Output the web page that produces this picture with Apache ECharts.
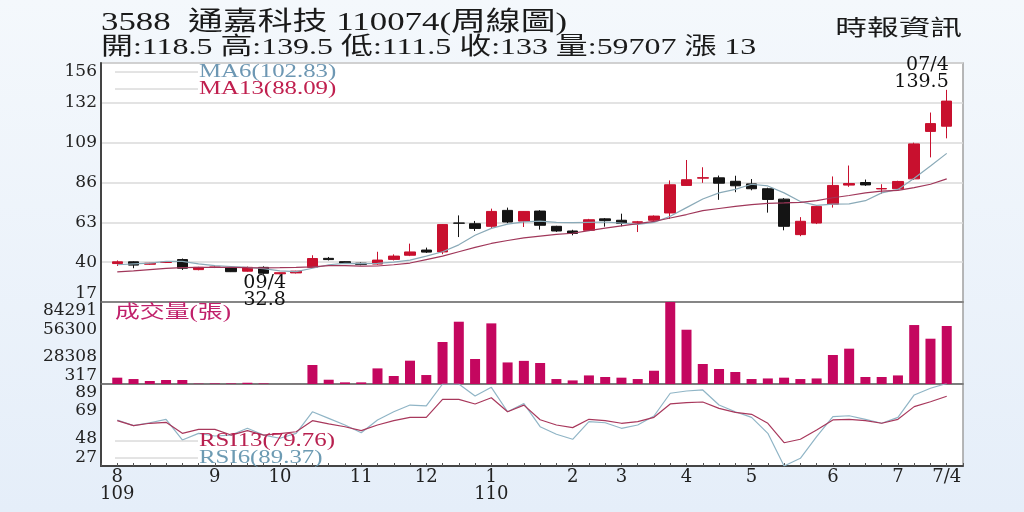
<!DOCTYPE html>
<html><head><meta charset="utf-8">
<script src="https://cdn.jsdelivr.net/npm/echarts@6/dist/echarts.min.js"></script>
<style>html,body{margin:0;padding:0;width:1024px;height:512px;overflow:hidden;}#c{width:1024px;height:512px;}</style>
</head><body><div id="c"></div>
<script>
// ---- data (weekly, 52 weeks) ----
const xLabels = ['8\n109','','','','','','9','','','','10','','','','','11','','','','12','','','','1\n110','','','','','2','','','3','','','','4','','','','5','','','','','6','','','','7','','','7/4'];
const open  = [39.2,40.2,38.8,39.8,41.5,35.7,37.0,36.7,34.8,37.0,33.3,33.8,37.0,42.2,40.3,39.4,38.9,41.6,44.0,47.0,45.9,62.6,62.2,60.7,69.9,63.7,69.5,60.7,58.0,58.4,65.0,64.2,63.0,64.2,68.4,84.3,88.5,88.7,86.7,85.2,82.4,76.4,55.9,62.6,73.4,84.5,86.0,82.3,82.4,88.1,115.5,118.5];
const close = [40.2,38.3,39.4,40.0,36.5,37.0,37.2,34.5,37.0,33.6,33.9,34.8,42.1,41.5,39.5,38.7,41.2,43.5,45.9,45.8,61.7,62.5,59.5,69.3,63.2,69.3,61.3,58.0,56.6,64.5,64.0,62.4,63.3,66.6,84.7,87.6,88.8,85.6,84.1,82.4,76.2,60.7,63.6,72.2,84.3,85.4,84.6,82.5,86.6,108.3,120.0,133.0];
const low   = [37.8,36.5,38.5,39.5,35.5,35.3,36.6,34.3,34.5,32.8,33.0,33.5,36.8,41.0,39.2,38.2,38.5,41.0,43.5,45.3,44.6,54.5,58.0,59.4,62.5,60.3,58.8,57.5,55.5,58.0,60.5,60.7,57.4,63.8,65.0,84.0,85.8,76.0,80.4,81.5,68.6,58.4,55.0,62.0,71.5,83.5,84.0,79.5,81.4,87.5,100.5,111.5];
const high  = [41.0,40.5,39.6,40.4,42.1,37.3,37.6,36.9,37.5,37.6,34.0,35.0,44.0,43.0,40.5,39.8,46.0,44.5,50.7,48.4,62.0,67.0,63.8,70.9,71.5,69.5,70.0,61.0,58.7,65.0,65.5,68.0,63.8,67.0,87.2,99.0,94.8,90.0,89.9,88.0,83.0,77.0,66.0,73.0,89.5,95.8,87.7,85.0,87.0,109.0,126.4,139.5];
const ma6   = [38.5,39.0,39.5,40.5,40.5,39.0,38.0,37.5,37.0,36.3,35.0,34.5,36.5,38.5,39.3,39.2,39.3,40.0,41.2,43.5,46.0,50.0,55.5,59.5,62.0,63.3,63.7,63.0,62.8,63.0,63.2,62.5,61.8,63.0,66.5,71.5,76.5,80.0,82.0,85.0,84.0,80.0,75.0,72.8,73.5,73.7,75.5,80.0,82.0,88.5,95.5,102.83];
const ma13  = [34.4,35.0,35.7,36.4,36.8,37.0,37.0,37.0,36.8,36.7,36.8,37.0,37.3,38.0,38.0,37.7,37.8,38.5,39.5,41.5,43.5,46.0,48.5,50.8,52.5,54.0,55.0,56.0,56.7,58.2,59.7,61.0,62.2,63.5,65.5,67.5,69.8,71.0,72.2,73.2,74.0,74.2,74.5,75.5,77.2,78.5,80.0,81.0,81.5,83.0,85.0,88.09];
const volume = [6800,5400,3400,4400,4400,700,900,900,1600,900,317,350,19800,4700,2000,2000,16300,8500,24200,9500,43300,64100,25900,62400,22400,24000,21800,5400,4000,9100,7500,6800,5400,13900,84291,55900,20800,15700,12600,5400,6000,6800,5400,6000,30000,36500,7500,7500,9100,60700,46700,59707];
const rsi13 = [61.3,57.5,59.3,60.0,51.7,54.7,54.7,50.4,53.7,50.4,51.5,52.9,61.3,58.8,56.7,53.7,58.0,61.3,63.8,63.8,77.4,77.4,73.9,78.6,68.0,73.0,62.0,58.0,56.0,62.3,61.3,59.3,60.5,63.8,73.9,74.9,75.4,70.6,67.6,66.1,59.3,44.6,47.2,54.2,61.8,62.3,61.3,59.3,62.3,71.9,75.6,79.76];
const rsi6  = [61.8,57.5,59.7,62.3,46.7,51.7,49.7,50.4,55.5,50.4,48.0,51.7,68.0,63.0,58.0,52.2,61.8,68.0,73.1,72.4,89.0,89.0,79.9,86.5,68.0,74.2,56.7,51.0,47.2,60.5,59.7,55.5,58.0,64.8,82.0,83.7,84.5,73.1,68.0,63.8,51.7,27.0,32.8,49.2,64.3,65.0,62.3,59.3,63.8,80.7,85.8,89.37];
const priceTicks = [17,40,63,86,109,132,155];
const priceTickText = ['17','40','63','86','109','132','156'];
const volTicks = [317,28308,56300,84291];
const rsiTicks = [27,48,69,89];
const hiIdx = 51, hiDate = '07/4';
const loIdx = 9, loDate = '09/4';
const title1 = '3588  通嘉科技 110074(周線圖)';
const title2 = '開:118.5 高:139.5 低:111.5 收:133 量:59707 漲 13';
const sourceText = '時報資訊';
const volTitle = '成交量(張)';

// ---- chart ----
const chart = echarts.init(document.getElementById('c'));
const candleData = open.map((o, i) => [o, close[i], low[i], high[i]]);
const axisFont = "'DejaVu Serif', serif";
const textFont = "'Liberation Serif', 'Noto Sans CJK TC', serif";
const edgeFmt = (ticks, texts) => (v) => {
  let i = ticks.findIndex(t => Math.abs(t - v) < 1e-6);
  if (i < 0) return '';
  const t = texts ? texts[i] : String(ticks[i]);
  if (i === 0) return t + '\n';
  if (i === ticks.length - 1) return '\n' + t;
  return t;
};
const grids = [
  {left: 101, right: 61, top: 63, height: 239},
  {left: 101, right: 61, top: 302, height: 82},
  {left: 101, right: 61, top: 384, height: 82}
].map(g => Object.assign(g, {show: true, backgroundColor: '#ffffff', borderColor: '#a0a0a0', borderWidth: 1.5}));

const xAxes = [0, 1, 2].map(g => ({
  type: 'category', gridIndex: g, data: xLabels, boundaryGap: false, min: -1, max: 52,
  axisLine: {show: true, lineStyle: {color: g === 2 ? '#444' : '#6e6e6e', width: g === 2 ? 2 : 1.5}},
  axisTick: {show: g === 2, inside: true, length: 3, interval: 0, lineStyle: {color: '#555'}},
  axisLabel: {show: g === 2, interval: 0, margin: 3, fontFamily: axisFont, fontSize: 18, color: '#222', lineHeight: 17,
    formatter: v => (v === undefined || v === null || v === 'undefined') ? '' : v},
  splitLine: {show: false}
}));

const yBase = {
  type: 'value',
  axisLine: {show: true, lineStyle: {color: '#444', width: 2}},
  axisTick: {show: false},
};
const yAxes = [
  Object.assign({}, yBase, {gridIndex: 0, min: 17, max: 155, interval: 23,
    splitLine: {show: true, lineStyle: {color: '#dadada', width: 1.5}},
    axisLabel: {margin: 4, fontFamily: axisFont, fontSize: 17, color: '#222', lineHeight: 17, formatter: edgeFmt(priceTicks, priceTickText)}}),
  Object.assign({}, yBase, {gridIndex: 1, min: volTicks[0], max: volTicks[volTicks.length - 1],
    splitLine: {show: false},
    axisLabel: {margin: 4, customValues: volTicks, fontFamily: axisFont, fontSize: 17, color: '#222', lineHeight: 17, formatter: edgeFmt(volTicks)}}),
  Object.assign({}, yBase, {gridIndex: 2, min: rsiTicks[0], max: rsiTicks[rsiTicks.length - 1],
    splitLine: {show: false},
    axisLabel: {margin: 4, customValues: rsiTicks, fontFamily: axisFont, fontSize: 17, color: '#222', lineHeight: 17, formatter: edgeFmt(rsiTicks)}})
];

const SX = 1.38;
function txt(x, y, text, size, color, align, sx) {
  return {type: 'text', x: x, y: y, scaleX: sx || SX, z: 100,
    style: {text: text, fill: color, font: size + 'px ' + textFont, textAlign: align || 'left', align: align || 'left',
      textVerticalAlign: 'middle', verticalAlign: 'middle'}};
}
function seg(y) {
  return {type: 'line', z: 100, shape: {x1: 115, y1: y, x2: 198, y2: y}, style: {stroke: '#c8c8c8', lineWidth: 1}};
}
const last = close.length - 1;
const graphics = [
  txt(101, 23, title1, 26, '#1a1a1a', 'left', 1.34),
  txt(101, 48, title2, 24, '#1a1a1a', 'left', 1.33),
  txt(962, 29, sourceText, 22, '#1a1a1a', 'right', 1.44),
  seg(72), seg(89), seg(441), seg(458),
  txt(199, 72, 'MA6(' + ma6[last].toFixed(2) + ')', 18, '#6d97b3'),
  txt(199, 89, 'MA13(' + ma13[last].toFixed(2) + ')', 18, '#c0204f'),
  txt(115, 313, volTitle, 18, '#c0206a'),
  txt(199, 441, 'RSI13(' + rsi13[last].toFixed(2) + ')', 18, '#b8204f'),
  txt(199, 458, 'RSI6(' + rsi6[last].toFixed(2) + ')', 18, '#6d9bb3')
];

chart.setOption({
  animation: false,
  backgroundColor: {type: 'linear', x: 0, y: 0, x2: 0, y2: 1, colorStops: [{offset: 0, color: '#f4f8fc'}, {offset: 1, color: '#e5eef9'}]},
  grid: grids,
  xAxis: xAxes,
  yAxis: yAxes,
  graphic: graphics,
  series: [
    {type: 'candlestick', xAxisIndex: 0, yAxisIndex: 0, data: candleData, barWidth: 11,
      itemStyle: {color: '#c8102e', color0: '#141414', borderColor: '#c8102e', borderColor0: '#141414', borderWidth: 1},
      markPoint: {symbol: 'circle', symbolSize: 1, itemStyle: {color: 'rgba(0,0,0,0)'},
        label: {show: true, position: 'inside', fontFamily: axisFont, fontSize: 19, color: '#111', lineHeight: 17, formatter: p => p.name},
        data: [
          {name: hiDate + '\n' + high[hiIdx], coord: [hiIdx, high[hiIdx]], label: {align: 'right', offset: [2, -16]}},
          {name: loDate + '\n' + low[loIdx], coord: [loIdx, low[loIdx]], label: {align: 'center', offset: [1, 17]}}
        ]}},
    {type: 'line', name: 'MA6', xAxisIndex: 0, yAxisIndex: 0, data: ma6, symbol: 'none', lineStyle: {color: '#8aaab8', width: 1.2}, z: 3},
    {type: 'line', name: 'MA13', xAxisIndex: 0, yAxisIndex: 0, data: ma13, symbol: 'none', lineStyle: {color: '#a0375a', width: 1.2}, z: 3},
    {type: 'bar', name: 'volume', xAxisIndex: 1, yAxisIndex: 1, data: volume, barWidth: 10, itemStyle: {color: '#c4075f'}},
    {type: 'line', name: 'RSI6', xAxisIndex: 2, yAxisIndex: 2, data: rsi6, symbol: 'none', lineStyle: {color: '#90b5c6', width: 1.2}},
    {type: 'line', name: 'RSI13', xAxisIndex: 2, yAxisIndex: 2, data: rsi13, symbol: 'none', lineStyle: {color: '#a8385c', width: 1.2}}
  ]
});
</script>
</body></html>
